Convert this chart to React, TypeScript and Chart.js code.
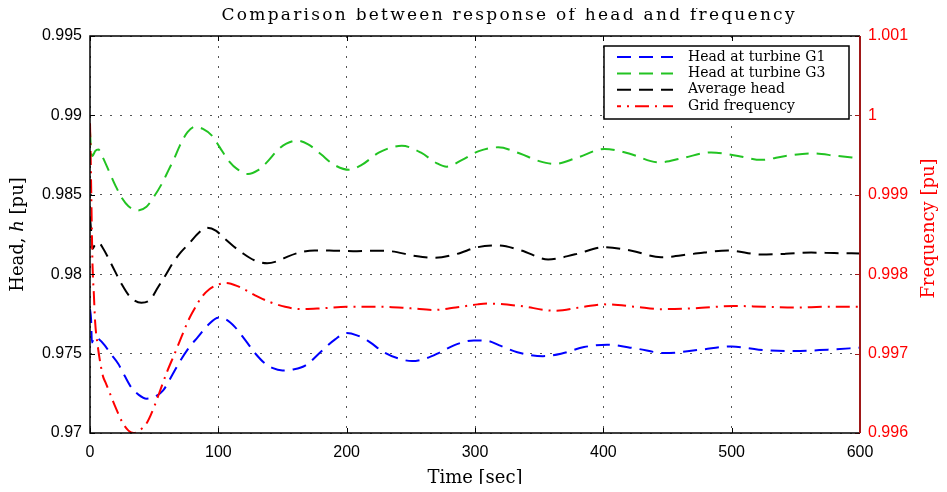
import { useEffect, useRef } from 'react';
import { Chart, registerables } from 'chart.js';

Chart.register(...registerables);

// ---------- data ----------
const chartTitle = 'Comparison between response of head and frequency';
const seriesLabels = ['Head at turbine G1', 'Head at turbine G3', 'Average head', 'Grid frequency'];
const xTitle = 'Time [sec]';
const leftTitle = 'Head, ℎ [pu]';
const rightTitle = 'Frequency [pu]';

const g1Time = [0, 0.8, 1.5, 3.6, 7, 11.5, 16, 22, 27, 32, 38, 44, 50, 57, 63, 69, 76, 84, 92, 100, 106, 113, 121, 129, 136, 142, 150, 158, 168, 181, 191, 200, 208, 216, 229, 240, 251, 262, 273, 286, 299, 310, 319, 333, 353, 367, 385, 403, 426, 448, 476, 500, 521, 549, 575, 600];
const g1Head = [0.9778, 0.9772, 0.9757, 0.97604, 0.9759, 0.97552, 0.975, 0.97436, 0.9736, 0.97289, 0.9724, 0.97216, 0.97226, 0.97268, 0.9735, 0.97436, 0.97525, 0.97604, 0.9768, 0.97726, 0.97715, 0.97667, 0.97585, 0.97499, 0.9744, 0.9741, 0.97394, 0.974, 0.97426, 0.9752, 0.9759, 0.97629, 0.97615, 0.97583, 0.97509, 0.9747, 0.97453, 0.9747, 0.97509, 0.9756, 0.97583, 0.9758, 0.97552, 0.97509, 0.97484, 0.97499, 0.97541, 0.97556, 0.97531, 0.97503, 0.97525, 0.97545, 0.97525, 0.97516, 0.97525, 0.97537];

const g3Time = [0, 1, 2, 4, 6.5, 10, 15, 20, 25, 30, 37, 44, 50, 56, 61, 66, 70, 76, 82, 88, 95, 101, 108, 115, 123, 131, 139, 146, 153, 161, 170, 180, 190, 202, 212, 225, 243, 258, 270, 278, 290, 303, 318, 335, 350, 362, 380, 401, 420, 443, 462, 484, 505, 523, 542, 562, 582, 600];
const g3Head = [0.989, 0.9876, 0.98745, 0.98775, 0.98785, 0.98735, 0.98645, 0.98555, 0.98478, 0.98428, 0.98401, 0.98425, 0.9849, 0.9857, 0.98652, 0.98735, 0.9881, 0.98895, 0.98929, 0.98915, 0.98873, 0.988, 0.98715, 0.9866, 0.98631, 0.98655, 0.98715, 0.9878, 0.98822, 0.98841, 0.98818, 0.98755, 0.9869, 0.98657, 0.9869, 0.98765, 0.98809, 0.98765, 0.987, 0.98677, 0.9872, 0.98775, 0.98799, 0.9876, 0.98712, 0.98694, 0.98735, 0.98789, 0.9876, 0.98704, 0.98732, 0.98767, 0.98745, 0.9872, 0.98745, 0.98761, 0.98745, 0.9873];

const avgTime = [0, 1, 2, 3.5, 6.5, 10, 16.5, 24.5, 31, 40, 47, 53, 59, 65, 71, 77, 84, 91, 98, 105, 112, 118, 128, 138, 147, 154, 165, 175, 190, 205, 220, 235, 252, 268, 286, 302, 318, 336, 357, 378, 401, 422, 445, 470, 497, 523, 542, 562, 580, 600];
const avgHead = [0.9836, 0.9826, 0.9816, 0.9818, 0.98201, 0.98165, 0.98066, 0.9794, 0.9786, 0.9782, 0.9784, 0.97918, 0.97995, 0.98076, 0.9814, 0.98191, 0.98255, 0.98292, 0.98275, 0.98223, 0.98175, 0.98138, 0.98088, 0.98069, 0.98085, 0.98111, 0.9814, 0.9815, 0.98148, 0.98145, 0.98148, 0.98144, 0.98117, 0.98103, 0.98128, 0.9817, 0.98181, 0.9815, 0.98093, 0.98125, 0.9817, 0.98148, 0.98107, 0.98128, 0.98149, 0.98124, 0.98128, 0.98136, 0.98133, 0.98131];

const freqTime = [0, 0.5, 1, 1.5, 2, 3, 4, 6, 8.6, 10.2, 12, 16, 20, 25, 30, 34, 40, 44, 50, 55, 60, 66, 72, 77, 82, 87, 93, 100, 106, 115, 128, 140, 152, 164, 180, 200, 226, 250, 268, 285, 302, 310, 335, 362, 385, 401, 425, 445, 470, 502, 525, 549, 575, 600];
const freqValue = [0.9999, 0.9995, 0.999, 0.9985, 0.9981, 0.99775, 0.9974, 0.9971, 0.99683, 0.99671, 0.99664, 0.99648, 0.99632, 0.99614, 0.99603, 0.996, 0.99605, 0.99612, 0.99633, 0.99655, 0.99677, 0.997, 0.99724, 0.99743, 0.99758, 0.99771, 0.99781, 0.99787, 0.99789, 0.99785, 0.99774, 0.99765, 0.99759, 0.99756, 0.99757, 0.99759, 0.99759, 0.99757, 0.99755, 0.99758, 0.99762, 0.99763, 0.9976, 0.99754, 0.99759, 0.99762, 0.99759, 0.99756, 0.99757, 0.9976, 0.99759, 0.99758, 0.99759, 0.99759];

const xRange = [0, 600];
const xStep = 100;
const headRange = [0.97, 0.995];
const headStep = 0.005;
const freqRange = [0.996, 1.001];
const freqStep = 0.001;

// ---------- styles ----------
const SERIF = '"DejaVu Serif", "Liberation Serif", serif';
const SANS = '"Liberation Sans", Arial, Helvetica, sans-serif';
const FRAME_RED = '#a01818';
const CANVAS_W = 931;
const CANVAS_H = 484;

const fmt = (v: number) => String(parseFloat(Number(v).toFixed(4)));
const pts = (t: number[], v: number[]) => t.map((x, i) => ({ x, y: v[i] }));

const framePlugin = {
  id: 'frame',
  afterDatasetsDraw(chart: any) {
    const { ctx, chartArea: a, scales } = chart;
    const tl = 5;
    ctx.save();
    ctx.setLineDash([]);
    ctx.strokeStyle = '#000';
    ctx.lineWidth = 1;
    ctx.beginPath();
    for (const t of scales.x.ticks) {
      const px = Math.round(scales.x.getPixelForValue(t.value)) + 0.5;
      ctx.moveTo(px, a.bottom); ctx.lineTo(px, a.bottom - tl);
      ctx.moveTo(px, a.top); ctx.lineTo(px, a.top + tl);
    }
    for (const t of scales.y.ticks) {
      const py = Math.round(scales.y.getPixelForValue(t.value)) + 0.5;
      ctx.moveTo(a.left, py); ctx.lineTo(a.left + tl, py);
    }
    ctx.stroke();
    ctx.strokeStyle = FRAME_RED;
    ctx.beginPath();
    for (const t of scales.y1.ticks) {
      const py = Math.round(scales.y1.getPixelForValue(t.value)) + 0.5;
      ctx.moveTo(a.right, py); ctx.lineTo(a.right - tl, py);
    }
    ctx.stroke();
    ctx.lineWidth = 1.5;
    ctx.strokeStyle = '#000';
    ctx.beginPath();
    ctx.moveTo(a.right, a.top); ctx.lineTo(a.left, a.top);
    ctx.lineTo(a.left, a.bottom); ctx.lineTo(a.right, a.bottom);
    ctx.stroke();
    ctx.strokeStyle = FRAME_RED;
    ctx.lineWidth = 2;
    ctx.beginPath();
    ctx.moveTo(a.right, a.top); ctx.lineTo(a.right, a.bottom);
    ctx.stroke();
    ctx.restore();
  },
};

const legendPlugin = {
  id: 'boxLegend',
  afterDraw(chart: any) {
    const { ctx, chartArea: a } = chart;
    const w = 245, h = 73;
    const x0 = a.right - 11 - w, y0 = a.top + 10;
    ctx.save();
    ctx.fillStyle = '#fff';
    ctx.fillRect(x0, y0, w, h);
    ctx.strokeStyle = '#000';
    ctx.lineWidth = 1.5;
    ctx.setLineDash([]);
    ctx.strokeRect(x0, y0, w, h);
    ctx.font = `14px ${SERIF}`;
    ctx.textBaseline = 'middle';
    ctx.textAlign = 'left';
    chart.data.datasets.forEach((ds: any, i: number) => {
      const yy = y0 + 11 + i * 16.4;
      ctx.strokeStyle = ds.borderColor;
      ctx.lineWidth = 2;
      ctx.setLineDash(ds.borderDash || []);
      ctx.lineDashOffset = i === 3 ? 10 : 0;
      ctx.beginPath();
      ctx.moveTo(x0 + 13, yy);
      ctx.lineTo(x0 + 69, yy);
      ctx.stroke();
      ctx.setLineDash([]);
      ctx.fillStyle = '#000';
      ctx.fillText(ds.label, x0 + 84, yy);
    });
    ctx.restore();
  },
};

const textPlugin = {
  id: 'extraText',
  afterDraw(chart: any) {
    const { ctx, chartArea: a } = chart;
    // main title, letter-spaced
    ctx.save();
    ctx.font = `17px ${SERIF}`;
    ctx.fillStyle = '#000';
    ctx.textBaseline = 'middle';
    ctx.textAlign = 'left';
    const target = 573;
    const w0 = ctx.measureText(chartTitle).width;
    const ls = Math.max(0, (target - w0) / (chartTitle.length - 1));
    (ctx as any).letterSpacing = `${ls}px`;
    const cx = (a.left + a.right) / 2 + 33;
    ctx.fillText(chartTitle, cx - target / 2, 8);
    ctx.restore();
    // right axis title, reading bottom-to-top
    ctx.save();
    ctx.font = `18px ${SERIF}`;
    ctx.fillStyle = '#ff0000';
    ctx.textBaseline = 'middle';
    ctx.textAlign = 'center';
    ctx.translate(CANVAS_W - 10, (a.top + a.bottom) / 2 - 6);
    ctx.rotate(-Math.PI / 2);
    ctx.fillText(rightTitle, 0, 0);
    ctx.restore();
  },
};

export default function App() {
  const ref = useRef<HTMLCanvasElement>(null);
  useEffect(() => {
    const canvas = ref.current;
    if (!canvas) return;
    const chart = new Chart(canvas, {
      type: 'line',
      data: {
        datasets: [
          { label: seriesLabels[0], data: pts(g1Time, g1Head), borderColor: '#0000ff', borderDash: [14, 8], yAxisID: 'y', order: 4 },
          { label: seriesLabels[1], data: pts(g3Time, g3Head), borderColor: '#22c322', borderDash: [14, 8], yAxisID: 'y', order: 3 },
          { label: seriesLabels[2], data: pts(avgTime, avgHead), borderColor: '#000000', borderDash: [14, 8], yAxisID: 'y', order: 2 },
          { label: seriesLabels[3], data: pts(freqTime, freqValue), borderColor: '#ff0000', borderDash: [14, 6, 2, 6], yAxisID: 'y1', order: 1 },
        ] as any,
      },
      options: {
        animation: false,
        responsive: false,
        elements: {
          point: { radius: 0 },
          line: { borderWidth: 2, cubicInterpolationMode: 'monotone', fill: false },
        },
        layout: { padding: { top: 28, left: 0, right: 0, bottom: 0 } },
        plugins: {
          legend: { display: false },
          tooltip: { enabled: false },
          title: { display: false },
        },
        scales: {
          x: {
            type: 'linear',
            min: xRange[0],
            max: xRange[1],
            ticks: { stepSize: xStep, padding: 10, color: '#000', font: { family: SANS, size: 16 }, callback: (v: any) => fmt(v) },
            grid: { color: '#555', lineWidth: 1, drawTicks: false },
            border: { display: false, dash: [2, 8] },
            title: { display: true, text: xTitle, color: '#000', font: { family: SERIF, size: 18, lineHeight: 1 }, padding: { top: 0, bottom: 5 } },
            afterFit: (s: any) => { s.height = CANVAS_H - 425; },
          },
          y: {
            type: 'linear',
            position: 'left',
            min: headRange[0],
            max: headRange[1],
            ticks: { stepSize: headStep, padding: 8, color: '#000', font: { family: SANS, size: 16 }, callback: (v: any) => fmt(v) },
            grid: { color: '#555', lineWidth: 1, drawTicks: false },
            border: { display: false, dash: [2, 8] },
            title: { display: true, text: leftTitle, color: '#000', font: { family: SERIF, size: 18, lineHeight: 1 }, padding: { top: 1, bottom: 0 } },
            afterFit: (s: any) => { s.width = 82; },
          },
          y1: {
            type: 'linear',
            position: 'right',
            min: freqRange[0],
            max: freqRange[1],
            ticks: { stepSize: freqStep, padding: 8, color: '#ff0000', font: { family: SANS, size: 16 }, callback: (v: any) => fmt(v) },
            grid: { drawOnChartArea: false, drawTicks: false },
            border: { display: false },
            title: { display: false },
            afterFit: (s: any) => { s.width = 79; },
          },
        },
      } as any,
      plugins: [framePlugin, legendPlugin, textPlugin],
    });
    return () => chart.destroy();
  }, []);
  return <canvas ref={ref} width={CANVAS_W} height={CANVAS_H} style={{ display: 'block', marginBottom: -8 }} />;
}
